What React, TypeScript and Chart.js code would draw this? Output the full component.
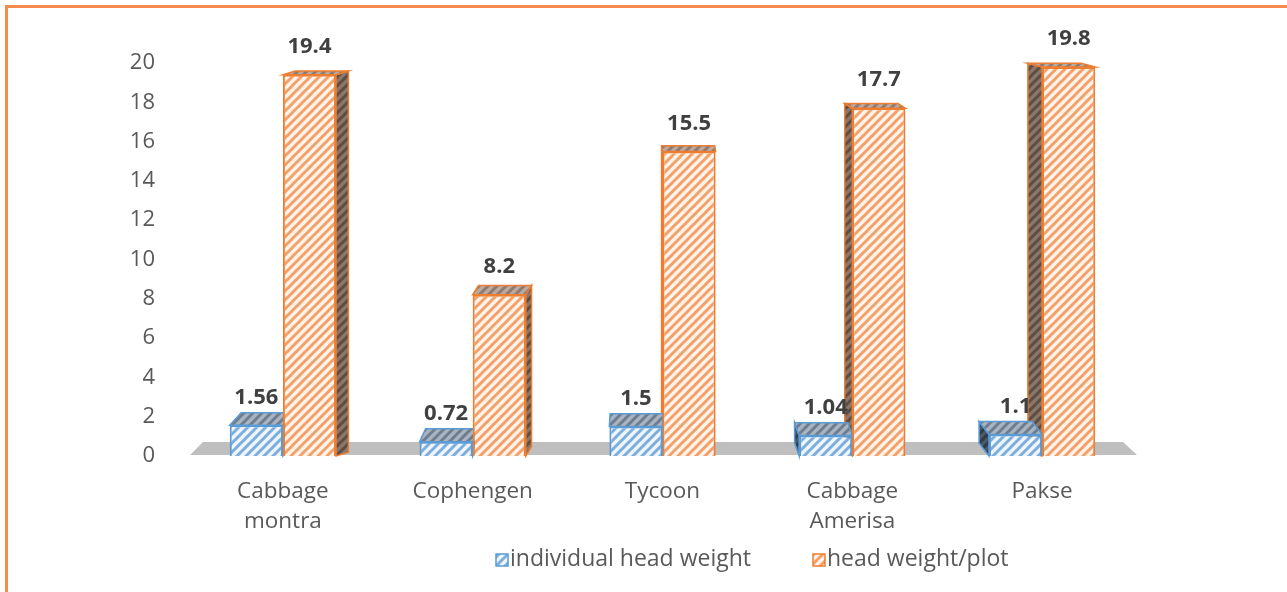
import React, { useEffect, useRef } from 'react';
import { Chart, registerables } from 'chart.js';

Chart.register(...registerables);

const categories: (string | string[])[] = [['Cabbage', 'montra'], 'Cophengen', 'Tycoon', ['Cabbage', 'Amerisa'], 'Pakse'];
const individualHeadWeight = [1.56, 0.72, 1.5, 1.04, 1.1];
const headWeightPerPlot = [19.4, 8.2, 15.5, 17.7, 19.8];
const seriesNames = ['individual head weight', 'head weight/plot'];
const yTicks = [0, 2, 4, 6, 8, 10, 12, 14, 16, 18, 20];

const FONT = "'Open Sans', 'Liberation Sans', sans-serif";

function makePattern(ctx: CanvasRenderingContext2D, bg: string, stripe: string, lw = 3, size = 9) {
  const c = document.createElement('canvas');
  c.width = size;
  c.height = size;
  const g = c.getContext('2d')!;
  g.fillStyle = bg;
  g.fillRect(0, 0, size, size);
  g.strokeStyle = stripe;
  g.lineWidth = lw;
  g.beginPath();
  g.moveTo(-1, size + 1);
  g.lineTo(size + 1, -1);
  g.moveTo(-size / 2 - 1, size / 2 + 1);
  g.lineTo(size / 2 + 1, -size / 2 - 1);
  g.moveTo(size / 2 - 1, size * 1.5 + 1);
  g.lineTo(size * 1.5 + 1, size / 2 - 1);
  g.stroke();
  return ctx.createPattern(c, 'repeat')!;
}

export default function App() {
  const ref = useRef<HTMLCanvasElement | null>(null);

  useEffect(() => {
    const canvas = ref.current!;
    const ctx = canvas.getContext('2d')!;
    const blueFront = makePattern(ctx, '#EEF5FC', '#7DAEDD', 3);
    const orangeFront = makePattern(ctx, '#FFF3EA', '#F4A06A', 3);
    const blueTop = makePattern(ctx, '#A9B4C0', '#6E7E90', 3);
    const orangeTop = makePattern(ctx, '#BBA99D', '#8E7A6E', 3);
    const blueSide = makePattern(ctx, '#4A5868', '#2F3B48', 3);
    const orangeSide = makePattern(ctx, '#8A776A', '#5E4D42', 3);

    const faces = [
      { top: blueTop, side: blueSide, stroke: '#5B9BD5' },
      { top: orangeTop, side: orangeSide, stroke: '#ED7D31' },
    ];

    const threeD = {
      id: 'threeD',
      beforeDatasetsDraw(chart: any) {
        const c = chart.ctx as CanvasRenderingContext2D;
        const { left, right, bottom } = chart.chartArea;
        c.save();
        c.fillStyle = '#BFBFBF';
        c.beginPath();
        c.moveTo(left + 2, bottom - 1);
        c.lineTo(left + 15, bottom - 14);
        c.lineTo(right - 14, bottom - 14);
        c.lineTo(right, bottom - 1);
        c.closePath();
        c.fill();
        const vx = (left + right) / 2;
        for (let di = chart.data.datasets.length - 1; di >= 0; di--) {
          const meta = chart.getDatasetMeta(di);
          const st = faces[di];
          meta.data.forEach((el: any) => {
            const { x, y, base, width } = el.getProps(['x', 'y', 'base', 'width'], true);
            const l = x - width / 2;
            const r = x + width / 2;
            const dx = -(x - vx) * (di === 0 ? 0.028 : 0.035);
            const dy = -(3 + (y - 40) * 0.025);
            c.lineWidth = 1.5;
            c.strokeStyle = st.stroke;
            if (Math.abs(dx) > 0.5) {
              const ex = dx > 0 ? r : l;
              c.fillStyle = st.side;
              c.beginPath();
              c.moveTo(ex, y);
              c.lineTo(ex + dx, y + dy);
              c.lineTo(ex + dx, base + dy);
              c.lineTo(ex, base);
              c.closePath();
              c.fill();
              c.stroke();
            }
            c.fillStyle = st.top;
            c.beginPath();
            c.moveTo(l, y);
            c.lineTo(r, y);
            c.lineTo(r + dx, y + dy);
            c.lineTo(l + dx, y + dy);
            c.closePath();
            c.fill();
            c.stroke();
          });
        }
        c.restore();
      },
    };

    const labels = {
      id: 'valueLabels',
      afterDatasetsDraw(chart: any) {
        const c = chart.ctx as CanvasRenderingContext2D;
        c.save();
        c.font = `bold 22px ${FONT}`;
        c.fillStyle = '#404040';
        c.textAlign = 'center';
        c.textBaseline = 'middle';
        chart.data.datasets.forEach((ds: any, di: number) => {
          const meta = chart.getDatasetMeta(di);
          meta.data.forEach((el: any, i: number) => {
            const { x, y } = el.getProps(['x', 'y'], true);
            c.fillText(String(ds.data[i]), x, y - 28);
          });
        });
        c.restore();
      },
    };

    const legendPlugin = {
      id: 'customLegend',
      afterDraw(chart: any) {
        const c = chart.ctx as CanvasRenderingContext2D;
        c.save();
        c.font = `23px ${FONT}`;
        c.textBaseline = 'middle';
        const items = [
          { x: 496, fill: blueFront, stroke: '#5B9BD5' },
          { x: 813, fill: orangeFront, stroke: '#ED7D31' },
        ];
        items.forEach((it, i) => {
          c.fillStyle = it.fill;
          c.fillRect(it.x, 554, 12, 12);
          c.strokeStyle = it.stroke;
          c.lineWidth = 1.5;
          c.strokeRect(it.x, 554, 12, 12);
          c.fillStyle = '#595959';
          c.textAlign = 'left';
          c.fillText(seriesNames[i], it.x + 14, 559);
        });
        c.restore();
      },
    };

    Chart.defaults.font.family = FONT;

    const chart = new Chart(canvas, {
      type: 'bar',
      data: {
        labels: categories as any,
        datasets: [
          {
            label: seriesNames[0],
            data: individualHeadWeight,
            backgroundColor: blueFront as any,
            borderColor: '#5B9BD5',
            borderWidth: 2,
            categoryPercentage: 0.56,
            barPercentage: 1,
          },
          {
            label: seriesNames[1],
            data: headWeightPerPlot,
            backgroundColor: orangeFront as any,
            borderColor: '#ED7D31',
            borderWidth: 2,
            categoryPercentage: 0.56,
            barPercentage: 1,
          },
        ],
      },
      options: {
        animation: false,
        responsive: false,
        layout: { padding: { top: 63, right: 150, left: 0, bottom: 0 } },
        plugins: { legend: { display: false }, tooltip: { enabled: false } },
        scales: {
          x: {
            grid: { display: false, drawTicks: false },
            border: { display: false },
            ticks: {
              color: '#595959',
              font: { size: 22.5, lineHeight: 1.33 },
              padding: 21,
              maxRotation: 0,
              autoSkip: false,
            },
            afterFit: (s: any) => {
              s.height = 136;
            },
          },
          y: {
            min: 0,
            max: 20,
            grid: { display: false, drawTicks: false },
            border: { display: false },
            ticks: { color: '#595959', font: { size: 22 }, padding: 33 },
            afterBuildTicks: (s: any) => {
              s.ticks = yTicks.map((v) => ({ value: v }));
            },
            afterFit: (s: any) => {
              s.width = 188;
            },
          },
        },
      },
      plugins: [threeD, labels, legendPlugin],
    });
    return () => chart.destroy();
  }, []);

  return (
    <div style={{ position: 'fixed', left: 0, top: 0, width: 1287, height: 592, overflow: 'hidden', background: '#fff' }}>
      <div
        style={{
          position: 'absolute',
          left: 5,
          top: 5,
          width: 1400,
          height: 700,
          border: '3px solid #F58B4C',
          boxSizing: 'border-box',
        }}
      />
      <canvas ref={ref} width={1287} height={592} style={{ position: 'absolute', left: 0, top: 0 }} />
    </div>
  );
}
